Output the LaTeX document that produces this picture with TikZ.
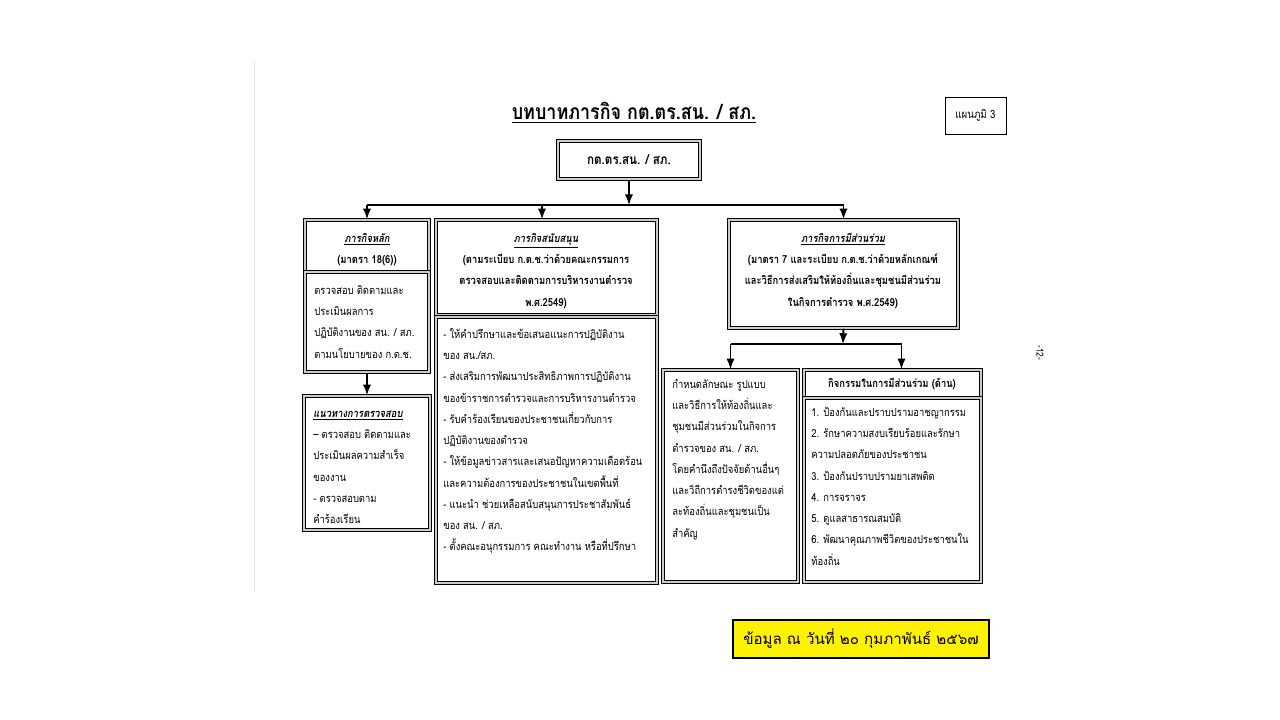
\documentclass[tikz,border=0pt]{standalone}
\usepackage{fontspec}
\newfontfamily\thai[Script=Thai,FakeStretch=0.85]{Loma}
\newfontfamily\thaiwide[Script=Thai]{Loma}
\usetikzlibrary{fit}
\begin{document}
\begin{tikzpicture}[x=0.2mm,y=-0.2mm,>=latex,
  box/.style={draw,line width=0.85pt,double=gray!40,double distance=1pt,inner sep=0pt},
  head/.style={anchor=north,align=center,inner sep=0pt,font=\thai\bfseries\fontsize{6.3}{12.1}\selectfont},
  body/.style={anchor=north west,align=left,inner sep=0pt,font=\thai\fontsize{6.3}{12.1}\selectfont},
  link/.style={line width=1.1pt}]
\useasboundingbox[fill=white] (0,0) rectangle (1280,720);
\draw[gray!15,line width=0.3pt] (254,60) -- (254,592);
% title and chart number
\node[font=\thai\bfseries\fontsize{12}{14}\selectfont] (title) at (634,113) {\underline{บทบาทภารกิจ กต.ตร.สน. / สภ.}};
\node[draw,line width=0.5pt,inner sep=0pt,fit={(945,97) (1006,134)}] (chart) {};
\node[font=\thai\fontsize{6.5}{8}\selectfont] (tchart) at (chart) {แผนภูมิ 3};
% boxes
\node[box,fit={(558,141) (700,179)}] (top) {};
\node[font=\thai\bfseries\fontsize{7.8}{9}\selectfont] (ttop) at (top) {กต.ตร.สน. / สภ.};
\node[box,fit={(305,220) (429,272)}] (hA) {};
\node[box,fit={(305,272) (429,372)}] (bA) {};
\node[box,fit={(304,396) (430,530)}] (A2) {};
\node[box,fit={(436,220) (657,315)}] (hB) {};
\node[box,fit={(436,317) (657,583)}] (bB) {};
\node[box,fit={(729,220) (958,328)}] (hC) {};
\node[box,fit={(663,370) (798,582)}] (D) {};
\node[box,fit={(804,370) (981,398)}] (hE) {};
\node[box,fit={(804,398) (981,582)}] (bE) {};
% texts
\node[head] (thA) at (367,227) {\strut\underline{\itshape ภารกิจหลัก}\\(มาตรา 18(6))};
\node[body] (tbA) at (314,279) {\strut ตรวจสอบ ติดตามและ\\ประเมินผลการ\\ปฏิบัติงานของ สน. / สภ.\\ตามนโยบายของ ก.ต.ช.};
\node[body] (tA2) at (313,402) {\strut\underline{\bfseries\itshape แนวทางการตรวจสอบ}\\– ตรวจสอบ ติดตามและ\\ประเมินผลความสำเร็จ\\ของงาน\\- ตรวจสอบตาม\\คำร้องเรียน};
\node[head] (thB) at (546,227) {\strut\underline{\itshape ภารกิจสนับสนุน}\\(ตามระเบียบ ก.ต.ช.ว่าด้วยคณะกรรมการ\\ตรวจสอบและติดตามการบริหารงานตำรวจ\\พ.ศ.2549)};
\node[body] (tbB) at (443,323) {\strut - ให้คำปรึกษาและข้อเสนอแนะการปฏิบัติงาน\\ของ สน./สภ.\\- ส่งเสริมการพัฒนาประสิทธิภาพการปฏิบัติงาน\\ของข้าราชการตำรวจและการบริหารงานตำรวจ\\- รับคำร้องเรียนของประชาชนเกี่ยวกับการ\\ปฏิบัติงานของตำรวจ\\- ให้ข้อมูลข่าวสารและเสนอปัญหาความเดือดร้อน\\และความต้องการของประชาชนในเขตพื้นที่\\- แนะนำ ช่วยเหลือสนับสนุนการประชาสัมพันธ์\\ของ สน. / สภ.\\- ตั้งคณะอนุกรรมการ คณะทำงาน หรือที่ปรึกษา};
\node[head] (thC) at (843,227) {\strut\underline{\itshape ภารกิจการมีส่วนร่วม}\\(มาตรา 7 และระเบียบ ก.ต.ช.ว่าด้วยหลักเกณฑ์\\และวิธีการส่งเสริมให้ท้องถิ่นและชุมชนมีส่วนร่วม\\ในกิจการตำรวจ พ.ศ.2549)};
\node[body] (tD) at (672,373) {\strut กำหนดลักษณะ รูปแบบ\\และวิธีการให้ท้องถิ่นและ\\ชุมชนมีส่วนร่วมในกิจการ\\ตำรวจของ สน. / สภ.\\โดยคำนึงถึงปัจจัยด้านอื่นๆ\\และวิถีการดำรงชีวิตของแต่\\ละท้องถิ่นและชุมชนเป็น\\สำคัญ};
\node[head] (thE) at (892,372) {\strut กิจกรรมในการมีส่วนร่วม (ด้าน)};
\node[body] (tbE) at (811,401) {\strut 1. ป้องกันและปราบปรามอาชญากรรม\\2. รักษาความสงบเรียบร้อยและรักษา\\ความปลอดภัยของประชาชน\\3. ป้องกันปราบปรามยาเสพติด\\4. การจราจร\\5. ดูแลสาธารณสมบัติ\\6. พัฒนาคุณภาพชีวิตของประชาชนใน\\ท้องถิ่น};
% connectors
\coordinate (bus) at (629,205);
\coordinate (bus2) at (843,344);
\draw[link,->] (top.south) -- (bus);
\draw[link] (hA.north |- bus) -- (hC.north |- bus);
\draw[link,->] (hA.north |- bus) -- (hA.north);
\draw[link,->] ([xshift=-0.9mm]hB.north |- bus) -- ([xshift=-0.9mm]hB.north);
\draw[link,->] (hC.north |- bus) -- (hC.north);
\draw[link,->] (bA.south) -- (A2.north);
\draw[link,->] (hC.south) -- (bus2);
\draw[link] (D.north |- bus2) -- ([xshift=1.8mm]hE.north |- bus2);
\draw[link,->] (D.north |- bus2) -- (D.north);
\draw[link,->] ([xshift=1.8mm]hE.north |- bus2) -- ([xshift=1.8mm]hE.north);
% side note and date
\node[rotate=-90,font=\thai\fontsize{5.5}{6}\selectfont] (page) at (1040,353) {-12-};
\node[draw,fill=yellow,line width=0.6pt,inner sep=0pt,fit={(733,620) (989,658)}] (date) {};
\node[font=\thaiwide\fontsize{8.6}{10}\selectfont] (tdate) at (date) {ข้อมูล ณ วันที่ ๒๐ กุมภาพันธ์ ๒๕๖๗};
\end{tikzpicture}
\end{document}
